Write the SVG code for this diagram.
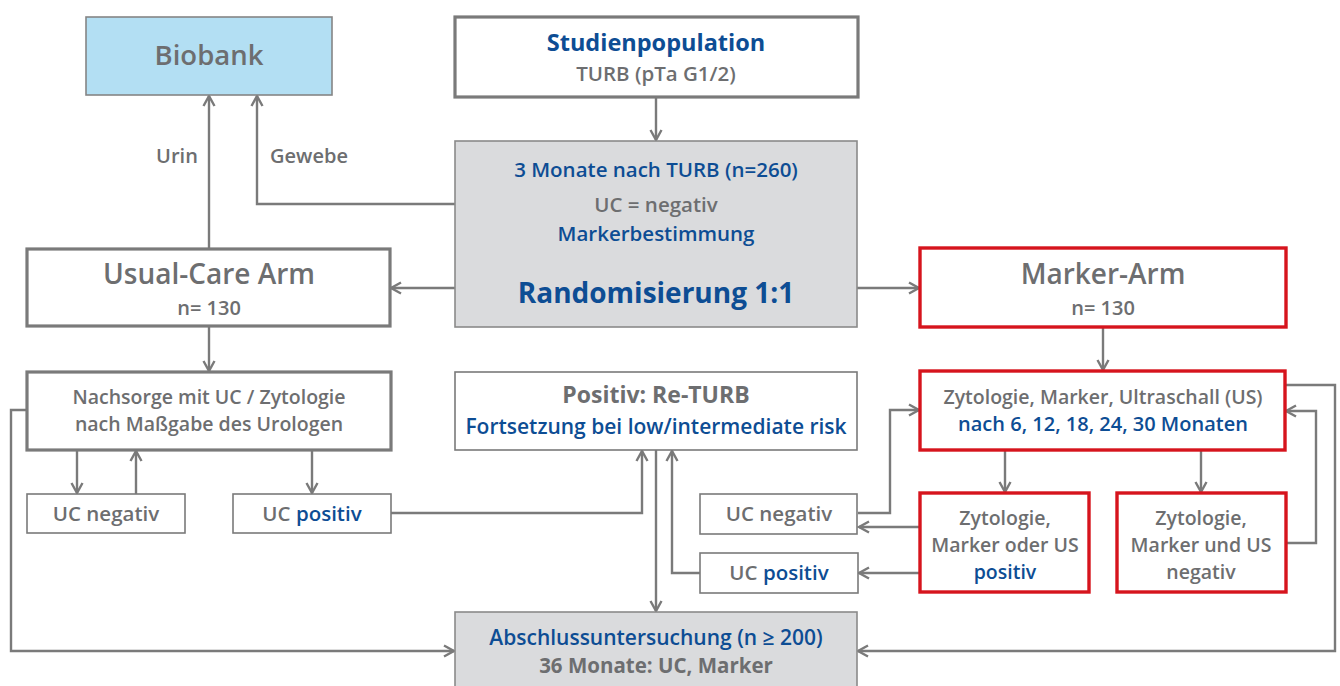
<svg xmlns="http://www.w3.org/2000/svg" width="1340" height="686" viewBox="0 0 1340 686">
<style>
.t{font-family:"Open Sans","Noto Sans","Liberation Sans",sans-serif;text-anchor:middle;fill:#6d6e70;font-weight:600}
.b{fill:#0d4d94}
.g{fill:#6d6e70}
.bold{font-weight:700}
.box{fill:#fff;stroke:#7a7a7a;stroke-width:1.6}
.thick{fill:#fff;stroke:#7a7a7a;stroke-width:3.2}
.red{fill:#fff;stroke:#d6141d;stroke-width:3.4}
.grey{fill:#dadbdd;stroke:#8a8a8a;stroke-width:1.6}
.c{fill:none;stroke:#7a7a7a;stroke-width:2.4;marker-end:url(#a)}
.n{fill:none;stroke:#7a7a7a;stroke-width:2.4}
</style>
<defs>
<marker id="a" viewBox="0 0 14 14" refX="12" refY="7" markerWidth="14" markerHeight="14" markerUnits="userSpaceOnUse" orient="auto">
<path d="M2,1.5 L12,7 L2,12.5" fill="none" stroke="#7a7a7a" stroke-width="2.4"/>
</marker>
</defs>
<rect width="1340" height="686" fill="#fff"/>
<g id="connectors">
<path class="c" d="M209,249 V96"/>
<path class="c" d="M455,204 H257 V96"/>
<path class="c" d="M656,97 V140"/>
<path class="c" d="M455,288 H391"/>
<path class="c" d="M857,288 H919"/>
<path class="c" d="M209,326 V371"/>
<path class="c" d="M77,450 V493"/>
<path class="c" d="M136,494 V451"/>
<path class="c" d="M312,450 V493"/>
<path class="c" d="M391,513 H642 V451"/>
<path class="c" d="M27,410 H11 V651 H454"/>
<path class="c" d="M656,450 V611"/>
<path class="c" d="M700,573 H672 V451"/>
<path class="c" d="M858,513 H890 V410 H919"/>
<path class="c" d="M1103,327 V370"/>
<path class="c" d="M1005,450 V492"/>
<path class="c" d="M1201,450 V492"/>
<path class="c" d="M920,527 H859"/>
<path class="c" d="M920,573 H859"/>
<path class="c" d="M1286,543 H1316 V411 H1286"/>
<path class="c" d="M1285,385 H1335 V651 H858"/>
<text class="t" x="177" y="163" font-size="20">Urin</text>
<text class="t" x="309" y="163" font-size="20">Gewebe</text>
</g>
<g id="biobank">
<rect x="86" y="17" width="246" height="78" fill="#b3dff3" stroke="#858585" stroke-width="1.6"/>
<text class="t" x="209" y="65" font-size="27.5">Biobank</text>
</g>
<g id="studienpopulation">
<rect class="thick" x="455" y="17" width="403" height="80"/>
<text class="t b bold" x="656" y="51" font-size="23.5">Studienpopulation</text>
<text class="t" x="656" y="81" font-size="20.5">TURB (pTa G1/2)</text>
</g>
<g id="randomisierung">
<rect class="grey" x="455" y="141" width="402" height="186"/>
<text class="t b" x="656" y="177" font-size="20.5">3 Monate nach TURB (n=260)</text>
<text class="t" x="656" y="212" font-size="20.5">UC = negativ</text>
<text class="t b" x="656" y="241" font-size="20.5">Markerbestimmung</text>
<text class="t b bold" x="656" y="303" font-size="28">Randomisierung 1:1</text>
</g>
<g id="usualcare">
<rect class="thick" x="27" y="249" width="363" height="77"/>
<text class="t" x="209" y="284" font-size="28">Usual-Care Arm</text>
<text class="t" x="209" y="315" font-size="20">n= 130</text>
</g>
<g id="markerarm">
<rect class="red" x="920" y="248" width="366" height="79"/>
<text class="t" x="1103" y="284" font-size="28">Marker-Arm</text>
<text class="t" x="1103" y="315" font-size="20">n= 130</text>
</g>
<g id="nachsorge">
<rect class="thick" x="27" y="372" width="364" height="78"/>
<text class="t" x="209" y="404" font-size="19.5">Nachsorge mit UC / Zytologie</text>
<text class="t" x="209" y="431" font-size="19.5">nach Maßgabe des Urologen</text>
</g>
<g id="ucneg-left">
<rect class="box" x="27" y="494" width="158" height="39"/>
<text class="t" x="106" y="521" font-size="20.5">UC negativ</text>
</g>
<g id="ucpos-left">
<rect class="box" x="233" y="494" width="158" height="39"/>
<text class="t" x="312" y="521" font-size="20.5">UC <tspan class="b">positiv</tspan></text>
</g>
<g id="returb">
<rect class="box" x="455" y="372" width="402" height="78"/>
<text class="t bold" x="656" y="403" font-size="23">Positiv: Re-TURB</text>
<text class="t b" x="656" y="434" font-size="21">Fortsetzung bei low/intermediate risk</text>
</g>
<g id="zytologie">
<rect class="red" x="920" y="371" width="365" height="79"/>
<text class="t" x="1103" y="404" font-size="19.5">Zytologie, Marker, Ultraschall (US)</text>
<text class="t b" x="1103" y="431" font-size="20">nach 6, 12, 18, 24, 30 Monaten</text>
</g>
<g id="ucneg-mid">
<rect class="box" x="700" y="494" width="157" height="40"/>
<text class="t" x="779" y="521" font-size="20.5">UC negativ</text>
</g>
<g id="ucpos-mid">
<rect class="box" x="700" y="553" width="158" height="40"/>
<text class="t" x="779" y="580" font-size="20.5">UC <tspan class="b">positiv</tspan></text>
</g>
<g id="oder">
<rect class="red" x="920" y="493" width="169" height="99"/>
<text class="t" x="1005" y="525" font-size="19.5">Zytologie,</text>
<text class="t" x="1005" y="552" font-size="19.5">Marker oder US</text>
<text class="t b" x="1005" y="579" font-size="19.5">positiv</text>
</g>
<g id="und">
<rect class="red" x="1117" y="493" width="169" height="99"/>
<text class="t" x="1201" y="525" font-size="19.5">Zytologie,</text>
<text class="t" x="1201" y="552" font-size="19.5">Marker und US</text>
<text class="t" x="1201" y="579" font-size="19.5">negativ</text>
</g>
<g id="abschluss">
<rect class="grey" x="455" y="612" width="402" height="80"/>
<text class="t b" x="656" y="645" font-size="21">Abschlussuntersuchung (n ≥ 200)</text>
<text class="t bold" x="656" y="673" font-size="20.5">36 Monate: UC, Marker</text>
</g>
</svg>
